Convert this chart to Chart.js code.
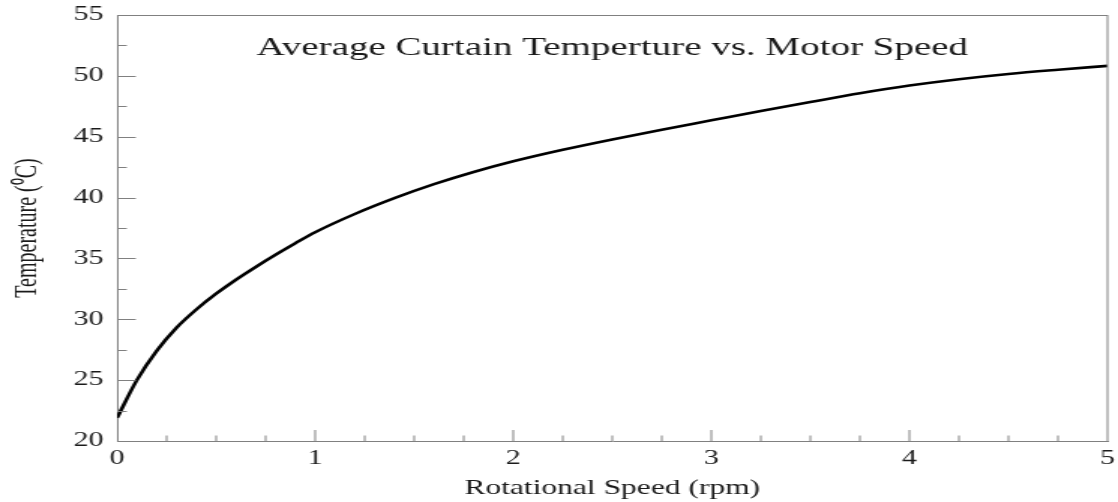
<!DOCTYPE html>
<html><head><meta charset="utf-8">
<script src="https://cdn.jsdelivr.net/npm/chart.js@4"></script>
<style>
html,body{margin:0;padding:0;background:#fff;overflow:hidden;}
#wrap{position:absolute;left:0;top:0;width:745px;height:502px;transform:scaleX(1.50067);transform-origin:0 0;}
</style></head><body>
<div id="wrap"><canvas id="c"></canvas></div>
<script>
const speeds = [0, 0.1, 0.2, 0.3, 0.4, 0.5, 0.6, 0.7, 0.8, 0.9, 1.0, 1.2, 1.4, 1.6, 1.8, 2.0, 2.25, 2.5, 2.75, 3.0, 3.25, 3.5, 3.75, 4.0, 4.25, 4.5, 4.75, 5.0];
const temps  = [21.9, 25.0, 27.4, 29.3, 30.8, 32.1, 33.25, 34.3, 35.3, 36.25, 37.15, 38.65, 39.95, 41.1, 42.1, 42.98, 43.93, 44.78, 45.58, 46.35, 47.12, 47.85, 48.57, 49.2, 49.72, 50.15, 50.5, 50.82];
const xTicks = [0, 1, 2, 3, 4, 5];
const yTicks = [20, 25, 30, 35, 40, 45, 50, 55];
const xMinorStep = 0.25;
const yMinorStep = 2.5;
const chartTitle = 'Average Curtain Temperture vs. Motor Speed';
const xTitle = 'Rotational Speed (rpm)';
const yTitle = 'Temperature (\u2070C)';

const SERIF = '"Liberation Serif", "Times New Roman", serif';
const AXIS = '#808080';
const TEXT = '#1a1a1a';

const framePlugin = {
  id: 'frame',
  afterDraw(chart) {
    const {ctx, chartArea: a, scales: {x, y}} = chart;
    ctx.save();
    ctx.strokeStyle = AXIS;
    ctx.lineWidth = 1;
    ctx.beginPath();
    ctx.moveTo(a.left, a.top + 0.5); ctx.lineTo(a.right, a.top + 0.5);
    ctx.moveTo(a.right, a.top); ctx.lineTo(a.right, a.bottom);
    const xmin = x.min, xmax = x.max;
    for (let i = 1; xmin + i * xMinorStep < xmax - 1e-9; i++) {
      const v = xmin + i * xMinorStep;
      const px = x.getPixelForValue(v);
      const major = xTicks.some(t => Math.abs(t - v) < 1e-9);
      ctx.moveTo(px, a.bottom); ctx.lineTo(px, a.bottom - (major ? 11 : 5.5));
    }
    const ymin = y.min, ymax = y.max;
    for (let i = 1; ymin + i * yMinorStep < ymax - 1e-9; i++) {
      const v = ymin + i * yMinorStep;
      const py = Math.round(y.getPixelForValue(v)) + 0.5;
      const major = yTicks.some(t => Math.abs(t - v) < 1e-9);
      ctx.moveTo(a.left, py); ctx.lineTo(a.left + (major ? 12.5 : 6.5), py);
    }
    ctx.stroke();
    ctx.fillStyle = TEXT;
    ctx.font = '26px ' + SERIF;
    ctx.textAlign = 'center';
    ctx.textBaseline = 'alphabetic';
    ctx.fillText(chartTitle, (a.left + a.right) / 2, 55);
    ctx.restore();
  }
};

new Chart(document.getElementById('c'), {
  type: 'scatter',
  data: {
    datasets: [{
      data: speeds.map((s, i) => ({x: s, y: temps[i]})),
      showLine: true,
      borderColor: '#000',
      borderWidth: 2.6,
      pointRadius: 0,
      cubicInterpolationMode: 'monotone',
      fill: false
    }]
  },
  options: {
    responsive: true,
    maintainAspectRatio: false,
    animation: false,
    events: [],
    layout: {padding: {top: 15, right: 7, bottom: 0, left: 0}},
    plugins: {legend: {display: false}, tooltip: {enabled: false}, title: {display: false}},
    scales: {
      x: {
        type: 'linear', min: 0, max: 5,
        afterBuildTicks: s => { s.ticks = xTicks.map(v => ({value: v})); },
        afterFit: s => { s.height = 61; s.paddingLeft = 0; s.paddingRight = 0; },
        grid: {display: false, drawTicks: false},
        border: {display: true, color: AXIS, width: 1},
        ticks: {color: TEXT, font: {family: SERIF, size: 20}, padding: 6, maxRotation: 0, autoSkip: false},
        title: {display: true, text: xTitle, color: TEXT, font: {family: SERIF, size: 21, lineHeight: 1.2}, padding: {top: 0, bottom: 1}}
      },
      y: {
        type: 'linear', min: 20, max: 55,
        afterBuildTicks: s => { s.ticks = yTicks.map(v => ({value: v})); },
        afterFit: s => { s.width = 78; s.paddingTop = 0; s.paddingBottom = 0; },
        grid: {display: false, drawTicks: false},
        border: {display: true, color: AXIS, width: 1},
        ticks: {color: TEXT, font: {family: SERIF, size: 20}, padding: 9, autoSkip: false},
        title: {display: true, text: yTitle, color: TEXT, font: {family: SERIF, size: 20, lineHeight: 1.2}, padding: {top: 7, bottom: 0}}
      }
    }
  },
  plugins: [framePlugin]
});
</script>
</body></html>
